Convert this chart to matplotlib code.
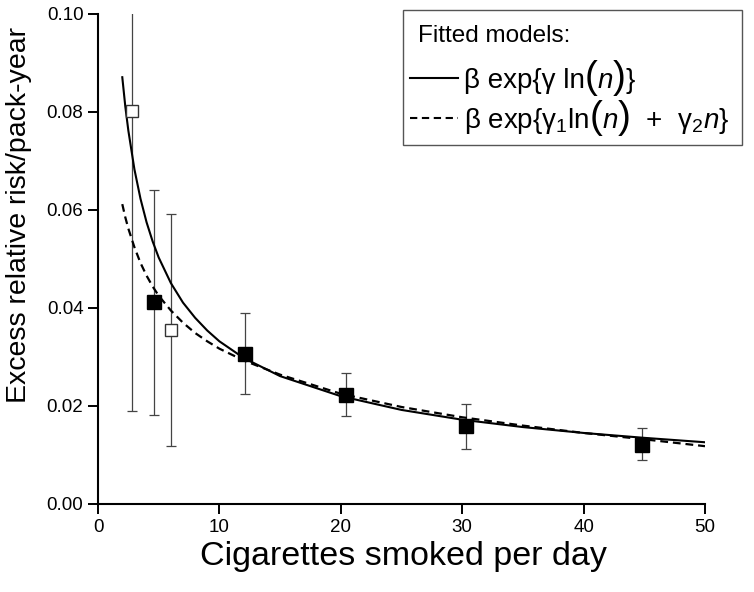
import matplotlib
matplotlib.use("Agg")
import matplotlib.pyplot as plt
from matplotlib.patches import Rectangle
from matplotlib.lines import Line2D
from matplotlib.offsetbox import TextArea, HPacker, AnchoredOffsetbox

plt.rcParams['font.family'] = ['Liberation Sans', 'DejaVu Sans']
plt.rcParams['mathtext.fontset'] = 'custom'
plt.rcParams['mathtext.rm'] = 'Liberation Sans'
plt.rcParams['mathtext.it'] = 'Liberation Sans:italic'
plt.rcParams['mathtext.bf'] = 'Liberation Sans:bold'

# --- data ---
open_x = [2.78, 6.05]
open_y = [0.0802, 0.0355]
open_lo = [0.0190, 0.0118]
open_hi = [0.1040, 0.0592]

filled_x = [4.62, 12.1, 20.4, 30.3, 44.8]
filled_y = [0.0412, 0.0307, 0.0223, 0.0159, 0.0121]
filled_lo = [0.0181, 0.0225, 0.0179, 0.0113, 0.0089]
filled_hi = [0.0641, 0.0389, 0.0267, 0.0205, 0.0155]

# fitted model curves
curve_n = [2, 2.25, 2.5, 3, 3.5, 4, 4.5, 5, 6, 7, 8, 9, 10, 12, 15, 20, 25, 30, 35, 40, 45, 50]
model1 = [0.0871, 0.0811, 0.0762, 0.0683, 0.0623, 0.0575, 0.0536, 0.0503, 0.0451, 0.0411,
          0.0380, 0.0354, 0.0332, 0.0298, 0.0261, 0.0220, 0.0192, 0.0172, 0.0157, 0.0145,
          0.0135, 0.0126]
model2 = [0.0612, 0.0585, 0.0562, 0.0524, 0.0492, 0.0466, 0.0444, 0.0425, 0.0395, 0.0370,
          0.0349, 0.0332, 0.0317, 0.0293, 0.0264, 0.0225, 0.0198, 0.0177, 0.0160, 0.0145,
          0.0132, 0.0118]

x_ticks = [0, 10, 20, 30, 40, 50]
y_ticks = [0.00, 0.02, 0.04, 0.06, 0.08, 0.10]

W, H = 754, 592
fig = plt.figure(figsize=(W / 100, H / 100), dpi=100)
ax = fig.add_axes([98 / W, 1 - 504 / H, (705 - 98) / W, (504 - 14) / H])


def px(x, y):
    return x / W, 1 - y / H


DASH = (0, (3.5, 2.2))

ax.plot(curve_n, model1, color='black', lw=1.5, zorder=3)
ax.plot(curve_n, model2, color='black', lw=1.6, linestyle=DASH, zorder=3)

for xs, ys, lo, hi in [(open_x, open_y, open_lo, open_hi),
                       (filled_x, filled_y, filled_lo, filled_hi)]:
    err = [[y - l for y, l in zip(ys, lo)], [h - y for y, h in zip(ys, hi)]]
    ax.errorbar(xs, ys, yerr=err, fmt='none', ecolor='#444444', elinewidth=0.9,
                capsize=3.3, capthick=0.9, zorder=2)

ax.plot(filled_x, filled_y, 's', ms=9.5, mfc='black', mec='black', zorder=4)
ax.plot(open_x, open_y, 's', ms=9.3, mfc='white', mec='#333333', mew=1.0, zorder=4)

ax.set_xlim(0, 50)
ax.set_ylim(0, 0.10)
ax.set_xticks(x_ticks)
ax.set_yticks(y_ticks)
ax.set_yticklabels([f"{v:.2f}" for v in y_ticks])
ax.tick_params(direction='out', length=7.5, width=1.4, labelsize=13.5, pad=3)
for side in ['top', 'right']:
    ax.spines[side].set_visible(False)
for side in ['left', 'bottom']:
    ax.spines[side].set_linewidth(1.5)

fig.text(*px(403, 556), 'Cigarettes smoked per day', fontsize=24.5, ha='center', va='center')
fig.text(*px(19, 215), 'Excess relative risk/pack-year', fontsize=20.5, rotation=90,
         ha='center', va='center')

# legend box, drawn by hand
x0, y0 = px(403, 145)
x1, y1 = px(742, 10)
fig.patches.append(Rectangle((x0, y0), x1 - x0, y1 - y0, transform=fig.transFigure,
                             facecolor='white', edgecolor='#555555', lw=1.0, zorder=5))
fig.text(*px(418, 36), 'Fitted models:', fontsize=17.5, va='center', ha='left', zorder=6)

FS = 20
BIG = 28


def txt(s, size=FS, style='normal'):
    return TextArea(s, textprops=dict(fontsize=size, fontstyle=style))


row1 = [txt('β exp{γ ln'), txt('(', BIG), txt('n', style='italic'), txt(')', BIG), txt('}')]
row2 = [txt(r'β exp{$\mathrm{\gamma}_1$ln'), txt('(', BIG), txt('n', style='italic'),
        txt(')', BIG), txt(r'  +  $\mathrm{\gamma}_2$'), txt('n', style='italic'), txt('}')]

for items, ypix, ls in [(row1, 78, '-'), (row2, 118, DASH)]:
    lx0, ly = px(410, ypix)
    lx1, _ = px(458, ypix)
    fig.lines.append(Line2D([lx0, lx1], [ly, ly], transform=fig.transFigure,
                            color='black', lw=1.5, linestyle=ls, zorder=6))
    box = AnchoredOffsetbox(loc='center left',
                            child=HPacker(children=items, align='baseline', pad=0, sep=0),
                            pad=0, borderpad=0, frameon=False,
                            bbox_to_anchor=px(464, ypix), bbox_transform=fig.transFigure)
    box.set_zorder(7)
    fig.add_artist(box)

fig.savefig('out.png', dpi=100)
